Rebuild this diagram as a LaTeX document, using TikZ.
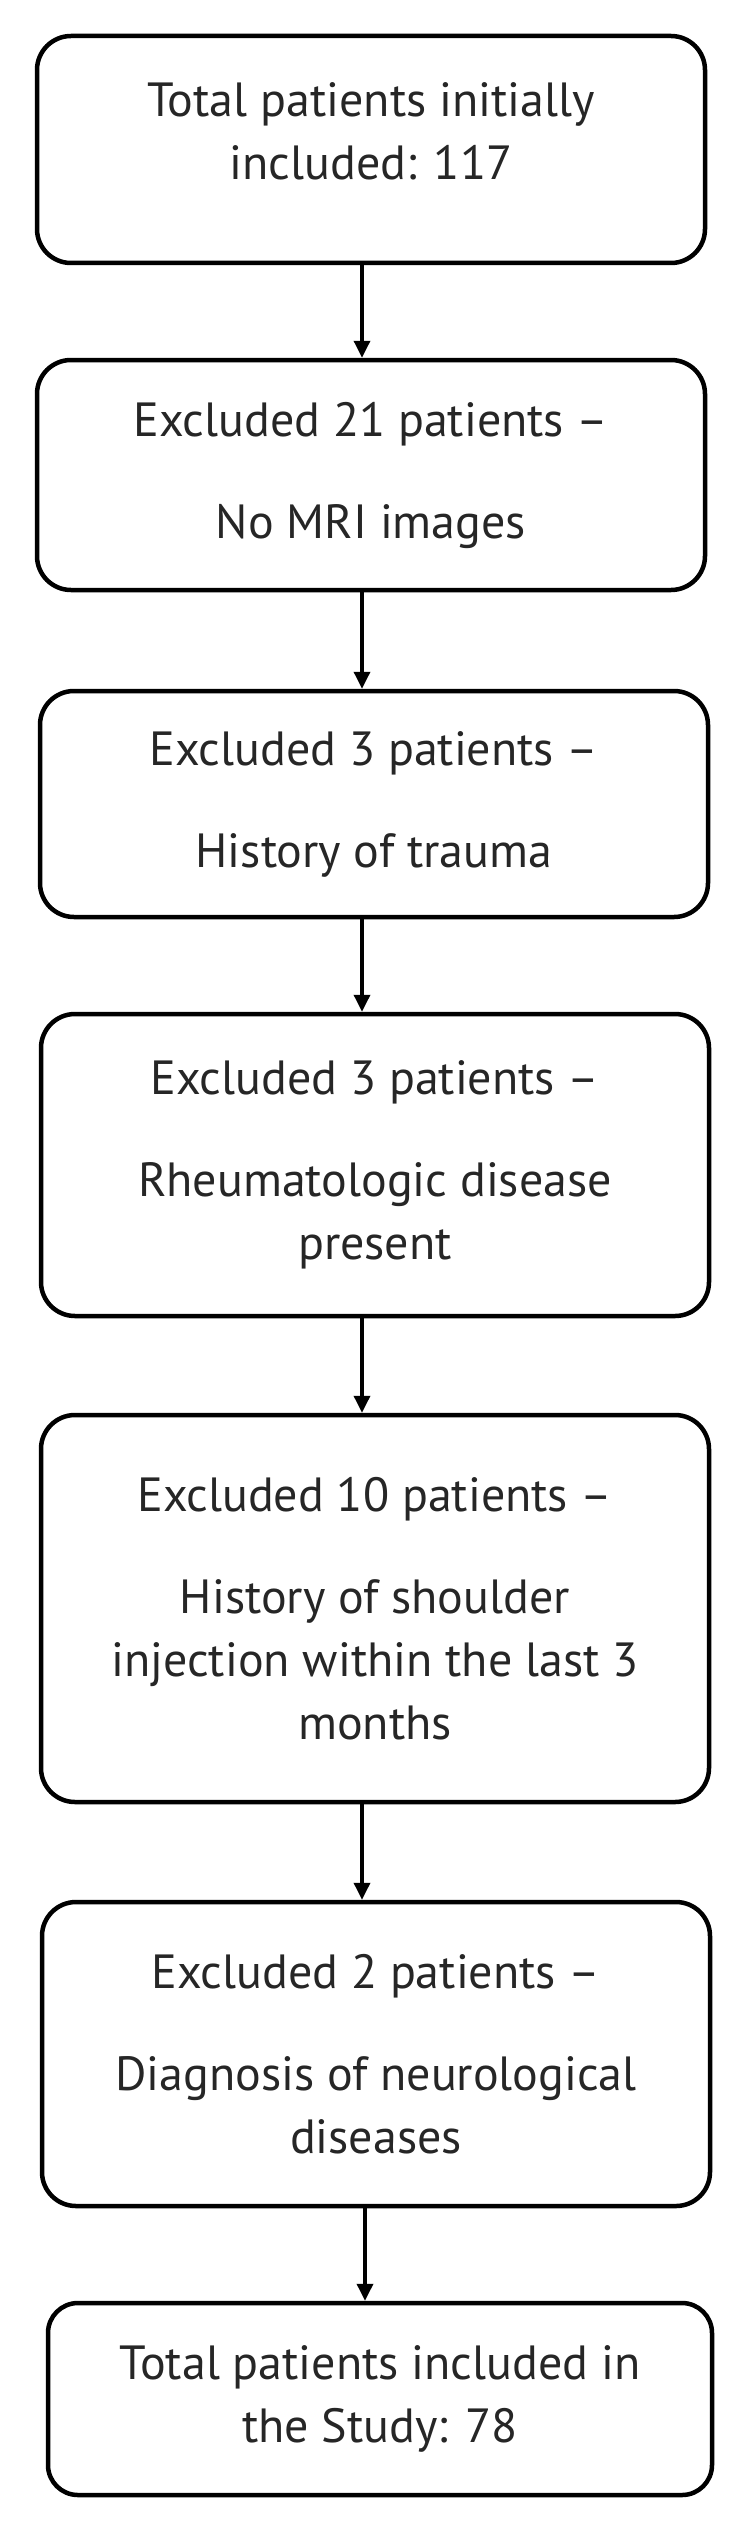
\documentclass[tikz,border=0pt]{standalone}
\usepackage{fontspec}
\setmainfont{PT Sans}
\usetikzlibrary{arrows.meta}

\newcommand*{\gapline}{39pt}

\begin{document}
\begin{tikzpicture}
[
	box/.style={draw,line width=4.5pt,rounded corners=34pt,minimum width=668pt,
		align=center,text=black!85,inner sep=0pt,
		font=\fontsize{48}{63}\selectfont},
	flow/.style={line width=3.5pt,-{Triangle[length=17pt,width=16pt]}},
	x=1pt,
	y=-1pt
]

	\useasboundingbox (0,0) rectangle (751,2531);

	% boxes
	\node[box,minimum height=227pt,text depth=36pt] (total) at (371,149.5)
		{Total patients initially\\included: 117};
	\node[box,minimum height=230pt] (nomri) at (371,475)
		{Excluded 21 patients –\\[\gapline]No MRI images};
	\node[box,minimum height=226pt] (trauma) at (374,804)
		{Excluded 3 patients –\\[\gapline]History of trauma};
	\node[box,minimum height=302pt] (rheuma) at (375,1165)
		{Excluded 3 patients –\\[\gapline]Rheumatologic disease\\present};
	\node[box,minimum height=387pt] (inject) at (375,1608.5)
		{Excluded 10 patients –\\[\gapline]History of shoulder\\injection within the last 3\\months};
	\node[box,minimum height=304pt] (neuro) at (376,2054)
		{Excluded 2 patients –\\[\gapline]Diagnosis of neurological\\diseases};
	\node[box,minimum height=192pt,minimum width=664pt,rounded corners=30pt] (study) at (380,2399)
		{Total patients included in\\the Study: 78};

	% arrows
	\draw[flow] ([xshift=-9pt]total.south) -- ([xshift=-9pt]total.south |- nomri.north);
	\draw[flow] ([xshift=-9pt]nomri.south) -- ([xshift=-9pt]nomri.south |- trauma.north);
	\draw[flow] ([xshift=-12pt]trauma.south) -- ([xshift=-12pt]trauma.south |- rheuma.north);
	\draw[flow] ([xshift=-13pt]rheuma.south) -- ([xshift=-13pt]rheuma.south |- inject.north);
	\draw[flow] ([xshift=-13pt]inject.south) -- ([xshift=-13pt]inject.south |- neuro.north);
	\draw[flow] ([xshift=-11pt]neuro.south) -- ([xshift=-11pt]neuro.south |- study.north);

\end{tikzpicture}
\end{document}
